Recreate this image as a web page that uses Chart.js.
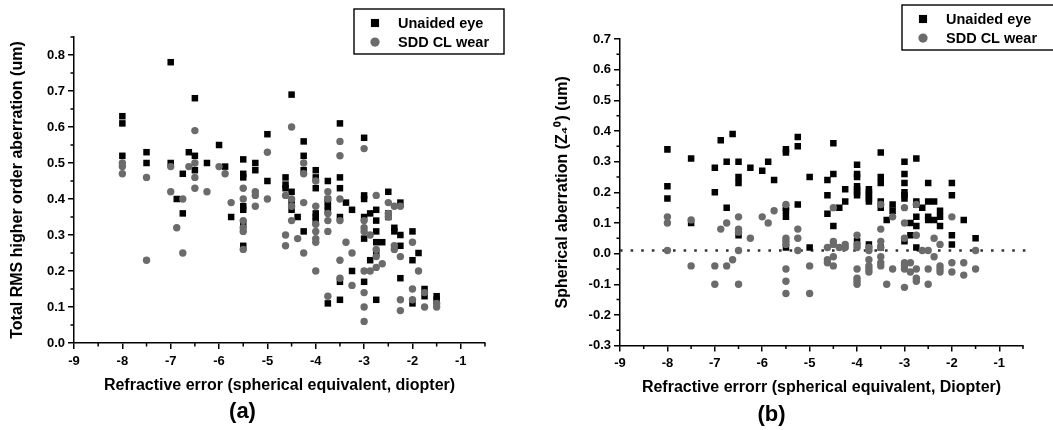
<!DOCTYPE html>
<html lang="en">
<head>
    <meta charset="utf-8" />
    <title>Aberration vs refractive error</title>
    <script src="https://cdn.jsdelivr.net/npm/chart.js@4.4.1/dist/chart.umd.min.js"></script>
    <style>
        body { margin: 0; background: #fff; }
        .panel { position: absolute; top: 0; }
        #panelA { left: 0; }
        #panelB { left: 520px; }
    </style>
</head>
<body>
    <div class="panel" id="panelA"><canvas id="chartA" width="520" height="430"></canvas></div>
    <div class="panel" id="panelB"><canvas id="chartB" width="533" height="430"></canvas></div>

    <script>
        // refractive error columns (diopter) and the values stacked at each one
        const rmsUnaidedX = [-8, -7.5, -7, -6.875, -6.75, -6.625, -6.5, -6.25, -6, -5.875, -5.75, -5.5, -5.25, -5,
            -4.625, -4.5, -4.375, -4.25, -4, -3.75, -3.5, -3.375, -3.25, -3, -2.875, -2.75, -2.625, -2.5, -2.375,
            -2.25, -2, -1.875, -1.75, -1.5];
        const rmsUnaidedY = [[0.63, 0.61, 0.52], [0.53, 0.50], [0.78, 0.50], [0.40], [0.47, 0.36], [0.53],
            [0.68, 0.52, 0.48], [0.50], [0.55], [0.49], [0.35], [0.51, 0.47, 0.46, 0.38, 0.37, 0.33, 0.27],
            [0.50, 0.48], [0.58, 0.45], [0.46, 0.44, 0.43], [0.69, 0.42, 0.39, 0.37], [0.35], [0.56, 0.52, 0.48, 0.31],
            [0.48, 0.46, 0.43, 0.36, 0.35, 0.34], [0.45, 0.40, 0.39, 0.38, 0.37, 0.11], [0.61, 0.46, 0.43, 0.35, 0.17, 0.12],
            [0.39], [0.37, 0.20], [0.57, 0.41, 0.40, 0.35, 0.29, 0.17], [0.36, 0.23], [0.37, 0.34, 0.31, 0.28, 0.25, 0.12],
            [0.28], [0.42, 0.36, 0.35], [0.32, 0.31], [0.39, 0.30, 0.27, 0.18], [0.31, 0.23, 0.11], [0.25],
            [0.15, 0.13], [0.13, 0.12]];

        const rmsLensX = [-8, -7.5, -7, -6.875, -6.75, -6.625, -6.5, -6.25, -6, -5.875, -5.75, -5.5, -5.25, -5,
            -4.625, -4.5, -4.375, -4.25, -4, -3.75, -3.5, -3.375, -3.25, -3, -2.875, -2.75, -2.625, -2.5, -2.375,
            -2.25, -2, -1.875, -1.75, -1.5];
        const rmsLensY = [[0.50, 0.49, 0.47], [0.46, 0.23], [0.49, 0.42], [0.32], [0.40, 0.25], [0.49],
            [0.59, 0.50, 0.46, 0.43], [0.42], [0.49], [0.47], [0.39], [0.43, 0.40, 0.34, 0.32, 0.31, 0.26],
            [0.42, 0.41, 0.38], [0.53, 0.40], [0.41, 0.30, 0.27], [0.60, 0.40, 0.38, 0.34], [0.29], [0.50, 0.47, 0.39, 0.25],
            [0.45, 0.38, 0.33, 0.31, 0.29, 0.28, 0.20], [0.42, 0.40, 0.36, 0.34, 0.31, 0.13], [0.56, 0.52, 0.40, 0.34, 0.23, 0.18],
            [0.28], [0.25, 0.16], [0.54, 0.34, 0.32, 0.31, 0.20, 0.14, 0.10, 0.06], [0.30, 0.20], [0.41, 0.26, 0.24, 0.21],
            [0.22], [0.39, 0.36, 0.35], [0.38, 0.27, 0.26], [0.38, 0.24, 0.12, 0.09], [0.28, 0.15, 0.12], [0.20],
            [0.14, 0.10], [0.11, 0.10]];

        const saUnaidedX = [-8, -7.5, -7, -6.875, -6.75, -6.625, -6.5, -6.25, -6, -5.875, -5.75, -5.5, -5.25, -5,
            -4.625, -4.5, -4.375, -4.25, -4, -3.75, -3.5, -3.375, -3.25, -3, -2.875, -2.75, -2.625, -2.5, -2.375,
            -2.25, -2, -1.75, -1.5];
        const saUnaidedY = [[0.34, 0.22, 0.18], [0.31, 0.10], [0.28, 0.20], [0.37], [0.30, 0.15], [0.39],
            [0.30, 0.25, 0.23, 0.06], [0.28], [0.27], [0.30], [0.24], [0.34, 0.33, 0.15, 0.14, 0.12, 0.02],
            [0.38, 0.35, 0.16], [0.25, 0.02], [0.24, 0.19, 0.13], [0.36, 0.26, 0.09], [0.15], [0.21, 0.17],
            [0.29, 0.26, 0.25, 0.22, 0.21, 0.20, 0.19, 0.04], [0.21, 0.20, 0.19, 0.18, 0.17, 0.03],
            [0.33, 0.25, 0.23, 0.17, 0.15, 0.02], [0.11], [0.16, 0.14], [0.30, 0.26, 0.23, 0.20, 0.19, 0.18, 0.04],
            [0.10, 0.06], [0.31, 0.17, 0.16, 0.12, 0.09, 0.02], [0.15], [0.23, 0.17, 0.12, 0.11], [0.17, 0.11],
            [0.14, 0.12, 0.09], [0.23, 0.19, 0.06, 0.03], [0.11], [0.05]];

        const saLensX = [-8, -7.5, -7, -6.875, -6.75, -6.625, -6.5, -6.25, -6, -5.875, -5.75, -5.5, -5.25, -5,
            -4.625, -4.5, -4.375, -4.25, -4, -3.75, -3.5, -3.375, -3.25, -3, -2.875, -2.75, -2.625, -2.5, -2.375,
            -2.25, -2, -1.75, -1.5];
        const saLensY = [[0.12, 0.10, 0.01], [0.11, -0.04], [-0.04, -0.10], [0.08], [0.10, -0.04], [-0.02],
            [0.12, 0.08, 0.07, 0.01, -0.10], [0.05], [0.12], [0.10], [0.14], [0.16, 0.05, 0.04, 0.03, -0.05, -0.09, -0.13],
            [0.08, 0.05, 0.01], [-0.04, -0.13], [0.02, -0.02, -0.03], [0.15, 0.04, 0.03, -0.01, -0.04], [0.02], [0.03, 0.02],
            [0.06, 0.03, 0.02, -0.05, -0.08, -0.09, -0.10], [0.02, 0.01, -0.02, -0.04, -0.05, -0.06],
            [0.16, 0.08, 0.04, 0.02, -0.01, -0.03, -0.04], [-0.10], [0.12, -0.05], [0.15, 0.10, 0.05, -0.03, -0.04, -0.05, -0.11],
            [-0.03, -0.06], [0.16, 0.06, -0.05, -0.08, -0.09], [0.01], [0.01, -0.05, -0.10], [0.05, -0.01],
            [0.03, -0.04, -0.05, -0.06], [0.12, -0.03, -0.06], [-0.03, -0.07], [0.01, -0.05]];

        // dotted reference line in panel (b)
        const refLineX = [-9, -0.3];
        const refLineY = [0.01, 0.01];

        const xTickValues = [-9, -8, -7, -6, -5, -4, -3, -2, -1];
        const rmsTickValues = [0, 0.1, 0.2, 0.3, 0.4, 0.5, 0.6, 0.7, 0.8];
        const saTickValues = [-0.3, -0.2, -0.1, 0, 0.1, 0.2, 0.3, 0.4, 0.5, 0.6, 0.7];

        const seriesNames = ['Unaided eye', 'SDD CL wear'];

        const FONT = '"Liberation Sans", Arial, Helvetica, sans-serif';
        const GREY = '#6b6b6b';
        Chart.defaults.font.family = FONT;
        Chart.defaults.color = '#000';

        function toPoints(xs, ys) {
            const pts = [];
            xs.forEach((x, i) => ys[i].forEach(y => pts.push({ x: x, y: y })));
            return pts;
        }

        // origin-style minor ticks halfway between the major ones
        const minorTicks = {
            id: 'minorTicks',
            afterDraw(chart) {
                const { ctx, chartArea, scales } = chart;
                ctx.save();
                ctx.strokeStyle = '#000';
                ctx.lineWidth = 1.5;
                ctx.beginPath();
                const xs = scales.x, ys = scales.y;
                for (let v = xs.min + 0.5; v <= xs.max + 1e-9; v += 1) {
                    const px = xs.getPixelForValue(v);
                    ctx.moveTo(px, chartArea.bottom);
                    ctx.lineTo(px, chartArea.bottom + 3.5);
                }
                for (let v = ys.min + 0.05; v <= ys.max + 1e-9; v += 0.1) {
                    const py = ys.getPixelForValue(v);
                    ctx.moveTo(chartArea.left, py);
                    ctx.lineTo(chartArea.left - 3.5, py);
                }
                ctx.stroke();
                ctx.restore();
            }
        };

        // framed legend box, markers a bit larger than the plotted ones
        const boxLegend = {
            id: 'boxLegend',
            afterDraw(chart, args, opts) {
                const ctx = chart.ctx;
                ctx.save();
                ctx.fillStyle = '#fff';
                ctx.fillRect(opts.x, opts.y, opts.w, opts.h);
                ctx.strokeStyle = '#000';
                ctx.lineWidth = 1.4;
                ctx.strokeRect(opts.x, opts.y, opts.w, opts.h);
                ctx.font = 'bold 14.5px ' + FONT;
                ctx.textBaseline = 'middle';
                chart.data.datasets.filter(ds => ds.label).forEach((ds, i) => {
                    const cy = opts.y + opts.firstRow + i * opts.rowGap;
                    ctx.fillStyle = ds.backgroundColor;
                    Chart.helpers.drawPoint(ctx, {
                        pointStyle: ds.pointStyle, radius: ds.pointRadius * 1.25, rotation: 0, borderWidth: 0
                    }, opts.x + opts.markerX, cy);
                    ctx.fillStyle = '#000';
                    ctx.fillText(ds.label, opts.x + opts.textX, cy + 1);
                });
                ctx.restore();
            }
        };

        function makeChart(id, cfg) {
            const datasets = [
                {
                    label: seriesNames[0], data: toPoints(cfg.unaidedX, cfg.unaidedY),
                    pointStyle: 'rect', pointRadius: 4.6, backgroundColor: '#000', borderWidth: 0, order: 2
                },
                {
                    label: seriesNames[1], data: toPoints(cfg.lensX, cfg.lensY),
                    pointStyle: 'circle', pointRadius: 3.7, backgroundColor: GREY, borderWidth: 0, order: 1
                }
            ];
            if (cfg.refX) {
                datasets.push({
                    data: cfg.refX.map((x, i) => ({ x: x, y: cfg.refY[i] })),
                    showLine: true, pointRadius: 0, borderColor: '#333', borderWidth: 2.6,
                    borderDash: [2.6, 8], clip: false, order: 3
                });
            }
            return new Chart(document.getElementById(id), {
                type: 'scatter',
                data: { datasets: datasets },
                plugins: [minorTicks, boxLegend],
                options: {
                    responsive: false,
                    animation: false,
                    layout: { padding: cfg.padding },
                    plugins: {
                        legend: { display: false },
                        tooltip: { enabled: false },
                        title: {
                            display: true, text: cfg.panel, position: 'bottom',
                            font: { size: 22, weight: 'bold' }, color: '#000',
                            padding: { top: 0, bottom: cfg.panelPad }
                        },
                        boxLegend: cfg.legend
                    },
                    scales: {
                        x: {
                            type: 'linear', min: -9, max: -0.5,
                            afterBuildTicks: s => { s.ticks = xTickValues.map(v => ({ value: v })); },
                            afterFit: s => { s.height = cfg.xHeight; },
                            ticks: { font: { size: 13, weight: 'bold' }, padding: cfg.xTickPad, callback: v => String(v) },
                            grid: { drawOnChartArea: false, color: '#000', lineWidth: 1.5, tickLength: 6 },
                            border: { display: true, color: '#000', width: 1.5 },
                            title: {
                                display: true, text: cfg.xTitle, font: { size: 16, weight: 'bold' },
                                padding: { top: 0, bottom: cfg.xTitlePad }
                            }
                        },
                        y: {
                            type: 'linear', min: cfg.yMin, max: cfg.yMax,
                            afterBuildTicks: s => { s.ticks = cfg.yTicks.map(v => ({ value: v })); },
                            afterFit: s => { s.width = cfg.yWidth; },
                            ticks: { font: { size: 13, weight: 'bold' }, padding: 3, callback: v => v.toFixed(1) },
                            grid: { drawOnChartArea: false, color: '#000', lineWidth: 1.5, tickLength: 6 },
                            border: { display: true, color: '#000', width: 1.5 },
                            title: {
                                display: true, text: cfg.yTitle, font: { size: 16, weight: 'bold' },
                                padding: { top: cfg.yTitlePad, bottom: 0 }
                            }
                        }
                    }
                }
            });
        }

        makeChart('chartA', {
            unaidedX: rmsUnaidedX, unaidedY: rmsUnaidedY, lensX: rmsLensX, lensY: rmsLensY,
            yMin: 0, yMax: 0.85, yTicks: rmsTickValues,
            xTitle: 'Refractive error (spherical equivalent, diopter)',
            yTitle: 'Total RMS higher order aberration (um)',
            panel: '(a)', panelPad: 5,
            padding: { top: 37, right: 35, left: 0, bottom: 0 },
            xHeight: 55.6, yWidth: 74, xTickPad: 5, xTitlePad: 3, yTitlePad: 8,
            legend: { x: 354, y: 9, w: 150, h: 45, markerX: 21, textX: 44, firstRow: 14, rowGap: 19 }
        });

        makeChart('chartB', {
            unaidedX: saUnaidedX, unaidedY: saUnaidedY, lensX: saLensX, lensY: saLensY,
            refX: refLineX, refY: refLineY,
            yMin: -0.3, yMax: 0.7, yTicks: saTickValues,
            xTitle: 'Refractive errorr (spherical equivalent, Diopter)',
            yTitle: 'Spherical aberration (Z\u2084\u2070) (um)',
            panel: '(b)', panelPad: 2,
            padding: { top: 39, right: 30, left: 0, bottom: 0 },
            xHeight: 56, yWidth: 100, xTickPad: 4, xTitlePad: 4, yTitlePad: 33,
            legend: { x: 382, y: 5, w: 170, h: 45, markerX: 21, textX: 44, firstRow: 14, rowGap: 19 }
        });
    </script>
</body>
</html>
